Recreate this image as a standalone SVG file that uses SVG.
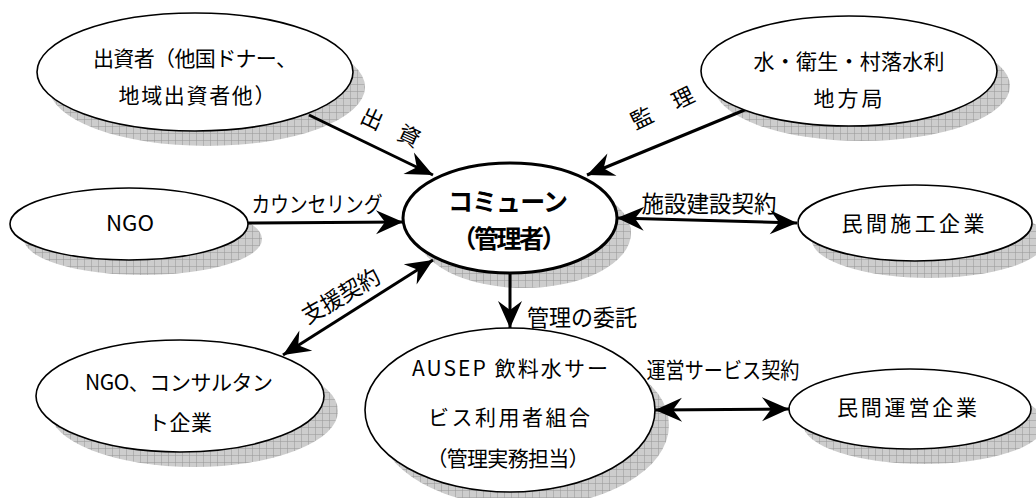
<svg xmlns="http://www.w3.org/2000/svg" width="1036" height="498" viewBox="0 0 1036 498">
<style>
text{font-family:"Noto Sans CJK JP","Noto Sans",sans-serif;fill:#000}
.t{font-size:21px;text-anchor:middle}
.lb{font-size:22px;text-anchor:middle}
.c{font-size:25px;font-weight:bold;text-anchor:middle}
.node{fill:#fff;stroke:#000;stroke-width:1.6}
.shadow{fill:url(#hatch)}
.conn{stroke:#000;stroke-width:3;fill:none}
</style>
<defs>
<pattern id="hatch" width="7" height="7" patternUnits="userSpaceOnUse">
<rect width="7" height="7" fill="#cdcdcd"/>
<path d="M0,0.3H7M0.3,0V7" stroke="#9a9a9a" stroke-width="0.7"/>
</pattern>
<marker id="ah" markerUnits="userSpaceOnUse" markerWidth="28" markerHeight="24" refX="27" refY="12" orient="auto-start-reverse" overflow="visible">
<path d="M0,0 L27,12 L0,24 L9,12 Z" fill="#000"/>
</marker>
</defs>

<g id="shadows">
<ellipse class="shadow" cx="207" cy="87" rx="158" ry="59"/>
<ellipse class="shadow" cx="862" cy="86" rx="148" ry="55"/>
<ellipse class="shadow" cx="143" cy="239" rx="119" ry="36"/>
<ellipse class="shadow" cx="524" cy="233" rx="107" ry="55"/>
<ellipse class="shadow" cx="929" cy="240" rx="117" ry="38"/>
<ellipse class="shadow" cx="194" cy="411" rx="144" ry="56"/>
<ellipse class="shadow" cx="524" cy="425" rx="145" ry="82"/>
<ellipse class="shadow" cx="924" cy="424" rx="121" ry="40"/>
</g>

<g id="connectors">
<line class="conn" x1="309" y1="115" x2="433" y2="175" marker-end="url(#ah)"/>
<line class="conn" x1="747" y1="109" x2="587" y2="175" marker-end="url(#ah)"/>
<line class="conn" x1="248" y1="223" x2="403" y2="222" marker-end="url(#ah)"/>
<line class="conn" x1="617" y1="218" x2="797" y2="223" marker-start="url(#ah)" marker-end="url(#ah)"/>
<line class="conn" x1="433" y1="260" x2="283" y2="355" marker-start="url(#ah)" marker-end="url(#ah)"/>
<line class="conn" x1="510" y1="274" x2="510" y2="328" marker-end="url(#ah)"/>
<line class="conn" x1="655" y1="410" x2="789" y2="409" marker-start="url(#ah)" marker-end="url(#ah)"/>
<text class="lb" transform="translate(372,119) rotate(25)" y="8">出</text>
<text class="lb" transform="translate(409,136) rotate(25)" y="8">資</text>
<text class="lb" transform="translate(642,118) rotate(-26)" y="8">監</text>
<text class="lb" transform="translate(683,98) rotate(-26)" y="8">理</text>
<text class="lb" x="317" y="212" textLength="131" lengthAdjust="spacingAndGlyphs">カウンセリング</text>
<text class="lb" x="709" y="212" style="font-size:23px" textLength="135" lengthAdjust="spacingAndGlyphs">施設建設契約</text>
<text class="lb" transform="translate(341,296) rotate(-30)" y="8" style="font-size:23px" textLength="86" lengthAdjust="spacingAndGlyphs">支援契約</text>
<text class="lb" x="582" y="326" style="font-size:23px" textLength="110" lengthAdjust="spacingAndGlyphs">管理の委託</text>
<text class="lb" x="723" y="378" textLength="153" lengthAdjust="spacingAndGlyphs">運営サービス契約</text>
</g>

<g id="n-investor">
<ellipse class="node" cx="195" cy="72" rx="158" ry="59"/>
<text class="t" x="195" y="66" textLength="204" lengthAdjust="spacing">出資者（他国ドナー、</text>
<text class="t" x="197" y="103" textLength="157" lengthAdjust="spacing">地域出資者他）</text>
</g>
<g id="n-bureau">
<ellipse class="node" cx="849" cy="71" rx="148" ry="55"/>
<text class="t" x="849" y="69" textLength="191" lengthAdjust="spacing">水・衛生・村落水利</text>
<text class="t" x="848" y="106" textLength="69" lengthAdjust="spacing">地方局</text>
</g>
<g id="n-ngo">
<ellipse class="node" cx="129" cy="224" rx="119" ry="36"/>
<text class="t" x="130" y="231" textLength="48" lengthAdjust="spacingAndGlyphs">NGO</text>
</g>
<g id="n-commune">
<ellipse class="node" cx="510" cy="218" rx="107" ry="55" style="stroke-width:3"/>
<text class="c" x="508" y="211" textLength="120" lengthAdjust="spacing">コミューン</text>
<text class="c" x="509" y="248" textLength="115" lengthAdjust="spacing">（管理者）</text>
</g>
<g id="n-construction">
<ellipse class="node" cx="915" cy="223" rx="117" ry="38"/>
<text class="t" x="913" y="231" textLength="143" lengthAdjust="spacing">民間施工企業</text>
</g>
<g id="n-consultant">
<ellipse class="node" cx="180" cy="396" rx="144" ry="56"/>
<text class="t" x="179" y="390" textLength="188" lengthAdjust="spacing">NGO、コンサルタン</text>
<text class="t" x="180" y="430" textLength="64" lengthAdjust="spacing">ト企業</text>
</g>
<g id="n-ausep">
<ellipse class="node" cx="510" cy="410" rx="145" ry="82"/>
<text class="t" x="510" y="376" textLength="196" lengthAdjust="spacing">AUSEP 飲料水サー</text>
<text class="t" x="509" y="425" textLength="162" lengthAdjust="spacing">ビス利用者組合</text>
<text class="t" x="508" y="466" textLength="163" lengthAdjust="spacing">（管理実務担当）</text>
</g>
<g id="n-operator">
<ellipse class="node" cx="910" cy="409" rx="121" ry="40"/>
<text class="t" x="907" y="415" textLength="140" lengthAdjust="spacing">民間運営企業</text>
</g>
</svg>
